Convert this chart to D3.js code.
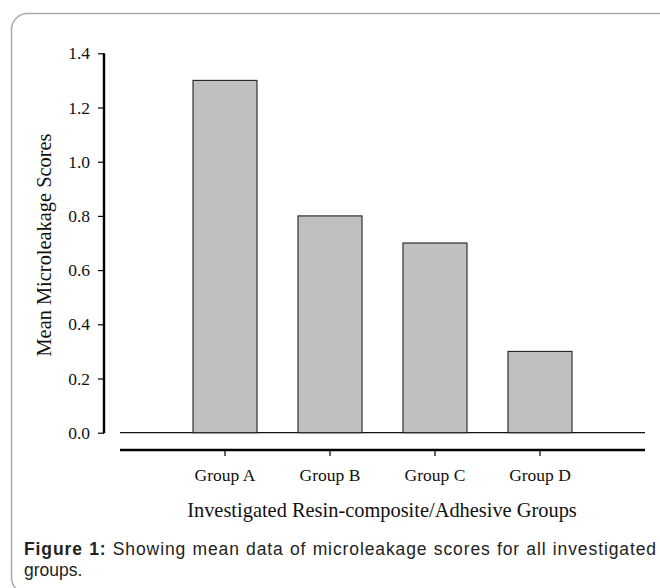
<!DOCTYPE html>
<html>
<head>
<meta charset="utf-8">
<script src="https://cdn.jsdelivr.net/npm/d3@7"></script>
<style>
  body { margin: 0; background: #fff; }
  #wrap { position: relative; width: 660px; height: 588px; overflow: hidden; }
  #caption {
    position: absolute; left: 24px; top: 539px; width: 633px;
    font-family: "Liberation Sans", Arial, sans-serif; font-size: 17.5px;
    line-height: 21px; color: #222;
  }
  #caption .l1 { display: block; text-align: justify; text-align-last: justify; letter-spacing: 0.9px; white-space: nowrap; }
  #caption .l2 { display: block; }
</style>
</head>
<body>
<div id="wrap">
  <svg id="chart" width="660" height="588"></svg>
  <div id="caption"><span class="l1"><b>Figure 1:</b> Showing mean data of microleakage scores for all investigated</span><span class="l2">groups.</span></div>
</div>
<script>
// data
const groups = ["Group A", "Group B", "Group C", "Group D"];
const scores = [1.3, 0.8, 0.7, 0.3];
const yTicks = [0, 0.2, 0.4, 0.6, 0.8, 1.0, 1.2, 1.4];

const svg = d3.select("#chart");
const serif = "'Liberation Serif', 'Times New Roman', serif";

// panel border with rounded left corners
svg.append("rect")
  .attr("x", 11.5).attr("y", 13.5)
  .attr("width", 720).attr("height", 580)
  .attr("rx", 16)
  .attr("fill", "none")
  .attr("stroke", "#aaa")
  .attr("stroke-width", 1.5);

const y = d3.scaleLinear().domain([0, 1.4]).range([432.7, 53.3]);
// slots 0..5, groups sit on 1..4
const x = d3.scaleLinear().domain([0, 5]).range([120, 645]);
const barW = 64;

// y axis
const yAxis = svg.append("g")
  .attr("transform", "translate(104,0)")
  .call(d3.axisLeft(y).tickValues(yTicks).tickFormat(d3.format(".1f")).tickSize(6).tickPadding(8));
yAxis.select(".domain").remove();
yAxis.selectAll(".tick line").attr("stroke", "#000").attr("stroke-width", 1.2);
yAxis.selectAll("text")
  .style("font-family", serif).style("font-size", "17.5px").attr("fill", "#111");
svg.append("line")
  .attr("x1", 104).attr("x2", 104)
  .attr("y1", y(1.4)).attr("y2", y(0) + 0.5)
  .attr("stroke", "#000").attr("stroke-width", 2.4);

// zero line
svg.append("line")
  .attr("x1", x(0)).attr("x2", x(5))
  .attr("y1", y(0)).attr("y2", y(0))
  .attr("stroke", "#111").attr("stroke-width", 1.2);

// bars
svg.append("g")
  .selectAll("rect")
  .data(scores)
  .join("rect")
  .attr("x", (d, i) => x(i + 1) - barW / 2)
  .attr("y", d => y(d))
  .attr("width", barW)
  .attr("height", d => y(0) - y(d))
  .attr("fill", "#c0c0c0")
  .attr("stroke", "#222")
  .attr("stroke-width", 1.1);

// category axis below
const xAxisY = 450;
svg.append("line")
  .attr("x1", x(0)).attr("x2", x(5))
  .attr("y1", xAxisY).attr("y2", xAxisY)
  .attr("stroke", "#000").attr("stroke-width", 2.6);
svg.append("g")
  .selectAll("line")
  .data(groups)
  .join("line")
  .attr("x1", (d, i) => x(i + 1)).attr("x2", (d, i) => x(i + 1))
  .attr("y1", xAxisY).attr("y2", xAxisY + 6)
  .attr("stroke", "#000").attr("stroke-width", 1.2);
svg.append("g")
  .selectAll("text")
  .data(groups)
  .join("text")
  .attr("x", (d, i) => x(i + 1))
  .attr("y", 481)
  .attr("text-anchor", "middle")
  .style("font-family", serif).style("font-size", "17.5px")
  .attr("fill", "#111")
  .text(d => d);

// axis titles
svg.append("text")
  .attr("x", 382).attr("y", 517)
  .attr("text-anchor", "middle")
  .style("font-family", serif).style("font-size", "20.4px")
  .attr("fill", "#111")
  .text("Investigated Resin-composite/Adhesive Groups");
svg.append("text")
  .attr("transform", "translate(51,245) rotate(-90)")
  .attr("text-anchor", "middle")
  .style("font-family", serif).style("font-size", "20.4px")
  .attr("fill", "#111")
  .text("Mean Microleakage Scores");
</script>
</body>
</html>
